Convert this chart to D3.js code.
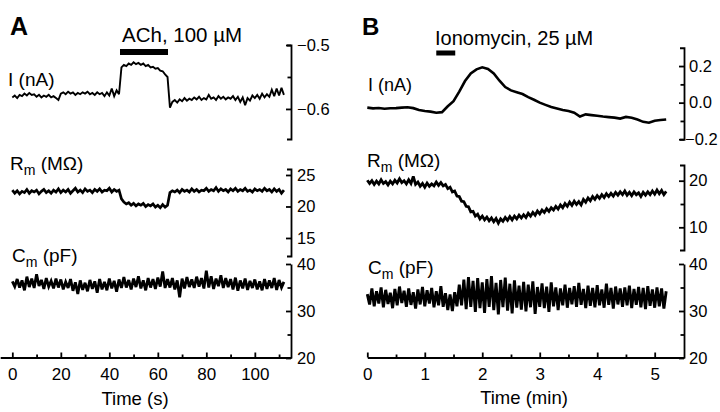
<!DOCTYPE html>
<html><head><meta charset="utf-8">
<script src="https://cdn.jsdelivr.net/npm/d3@7"></script>
<style>
body{margin:0;background:#fff;}
text{font-family:"Liberation Sans",Arial,Helvetica,sans-serif;fill:#000;}
</style></head>
<body>
<script>
// ---------------- DATA ----------------
// Panel A: ACh 100 uM, sampled every 1 s from 0 s
const stepA = 1;
const achApplication = [44.4, 64.2]; // s
const currentA = [-0.582,-0.579,-0.583,-0.578,-0.580,-0.576,-0.579,-0.575,-0.578,-0.577,-0.581,-0.578,-0.582,-0.579,-0.581,-0.578,-0.582,-0.580,-0.583,-0.586,
-0.576,-0.574,-0.577,-0.573,-0.576,-0.574,-0.578,-0.575,-0.577,-0.574,-0.576,-0.573,-0.577,-0.575,-0.578,-0.574,-0.577,-0.575,-0.580,-0.574,
-0.579,-0.568,-0.580,-0.571,-0.577,-0.535,-0.531,-0.533,-0.529,-0.531,-0.527,-0.530,-0.528,-0.531,-0.529,-0.533,-0.531,-0.535,-0.534,-0.537,
-0.536,-0.540,-0.541,-0.546,-0.550,-0.598,-0.589,-0.586,-0.590,-0.585,-0.588,-0.583,-0.587,-0.584,-0.586,-0.582,-0.585,-0.581,-0.586,-0.583,
-0.585,-0.578,-0.584,-0.582,-0.586,-0.580,-0.584,-0.581,-0.585,-0.582,-0.584,-0.580,-0.586,-0.581,-0.589,-0.582,-0.594,-0.583,-0.587,-0.579,
-0.583,-0.578,-0.584,-0.576,-0.582,-0.577,-0.581,-0.570,-0.580,-0.568,-0.579,-0.567,-0.578];
const resistanceA = [22.6,22.1,22.5,22.0,22.4,22.2,22.7,22.1,22.5,22.3,22.6,22.0,22.4,22.7,22.2,22.5,22.1,22.6,22.3,22.8,
22.2,22.6,22.3,22.7,22.1,22.5,22.9,22.3,22.6,22.2,22.8,22.4,22.6,22.2,22.7,22.4,22.8,22.3,22.6,22.5,
22.9,22.3,22.7,22.4,22.6,21.2,20.7,20.4,20.6,20.2,20.5,20.1,20.4,20.2,20.5,20.0,20.3,20.1,20.4,19.9,
20.2,19.8,20.3,19.9,20.2,22.2,22.5,22.3,22.6,22.2,22.7,22.4,22.6,22.3,22.8,22.4,22.7,22.3,22.6,22.5,
22.9,22.4,22.7,22.5,23.0,22.4,22.8,22.5,22.7,22.3,22.8,22.5,22.9,22.4,22.7,22.5,22.9,22.4,22.6,22.3,
22.8,22.5,22.7,22.4,22.9,22.5,22.7,22.3,22.8,22.4,22.7,22.1,22.6];
const capacitanceA = [36.3,35.2,36.8,35.0,36.5,34.4,37.3,35.1,36.9,34.9,37.8,35.3,36.6,34.7,37.0,35.2,36.4,34.8,36.9,35.0,
36.7,34.6,36.2,34.9,36.8,34.3,36.1,33.6,36.5,34.5,36.0,34.2,36.6,34.7,36.3,33.9,36.8,34.6,36.2,34.4,
36.9,34.8,36.4,34.1,36.7,34.9,37.2,35.0,36.6,34.6,36.9,35.1,37.4,34.8,36.5,34.4,37.0,35.0,36.8,34.7,
37.1,35.2,38.4,34.9,36.8,35.0,37.0,34.6,36.5,32.9,36.9,34.8,37.2,35.1,36.7,34.9,37.3,35.2,37.0,34.8,
38.6,35.0,37.4,34.7,36.9,35.3,37.6,34.9,37.0,35.1,36.8,34.6,37.1,34.3,36.5,34.8,36.9,34.5,36.4,34.9,
36.7,34.6,36.3,34.4,36.8,34.7,36.5,34.9,37.0,34.5,36.6,35.0,36.2];

// Panel B: Ionomycin 25 uM
const stepBI = 0.1;   // min
const stepBRC = 0.04; // min
const ionoApplication = [1.2, 1.53]; // min
const currentB = [-0.027,-0.031,-0.029,-0.033,-0.031,-0.030,-0.027,-0.025,-0.030,-0.040,
-0.046,-0.049,-0.055,-0.052,-0.020,0.008,0.060,0.118,0.160,0.182,
0.193,0.184,0.160,0.120,0.085,0.067,0.057,0.047,0.030,0.016,
0.000,-0.012,-0.024,-0.032,-0.040,-0.046,-0.055,-0.076,-0.064,-0.068,
-0.072,-0.076,-0.079,-0.082,-0.087,-0.078,-0.082,-0.092,-0.105,-0.110,
-0.099,-0.095,-0.092];
const resistanceB = [20.1,19.4,20.0,19.2,19.9,19.3,20.2,19.4,19.8,19.1,19.9,19.3,20.1,19.5,20.4,19.6,20.0,19.3,20.2,19.4,
20.9,19.2,19.7,18.8,19.4,18.6,19.5,18.8,19.3,18.9,19.7,19.0,19.6,18.9,19.2,18.3,18.6,17.6,17.8,16.7,
16.6,15.6,15.5,14.5,14.4,13.3,13.4,12.4,12.8,11.8,12.4,11.6,12.2,11.4,12.0,11.2,11.9,10.9,11.8,11.3,
12.1,11.5,12.3,11.6,12.4,11.8,12.6,12.0,12.7,12.1,13.0,12.4,13.2,12.6,13.5,12.9,13.7,13.2,14.0,13.4,
14.2,13.7,14.5,13.9,14.8,14.2,15.1,14.5,15.4,14.7,15.6,14.9,15.5,14.8,16.0,15.4,16.3,15.7,16.6,16.0,
16.8,16.2,17.0,16.4,17.2,16.6,17.3,16.7,17.5,16.9,17.6,17.0,17.8,16.9,17.5,16.8,17.6,17.0,17.4,16.6,
17.5,16.9,17.6,17.0,17.8,17.1,18.0,17.2,17.9,17.0,17.7];
const capacitanceB = [33.6,31.4,34.8,31.0,34.2,31.6,35.0,30.8,34.5,31.5,33.9,30.6,34.7,31.2,35.2,31.7,34.3,30.9,34.8,31.3,
34.0,30.5,34.6,31.4,35.1,31.0,34.4,31.6,34.9,30.8,34.2,31.2,35.3,30.9,33.8,30.2,33.5,30.0,34.0,31.0,
35.6,31.2,36.7,30.4,37.2,30.9,36.4,29.8,37.0,30.6,36.1,29.6,36.8,30.9,37.4,30.2,36.0,29.3,36.6,30.8,
37.1,30.1,35.8,29.5,36.5,30.7,35.4,30.3,36.2,29.9,35.6,30.8,36.3,29.4,35.1,30.9,35.9,30.6,35.2,29.8,
36.1,31.0,35.0,30.2,34.8,31.2,35.6,30.7,34.9,31.4,35.3,30.9,36.0,31.3,34.7,30.6,35.4,31.1,34.9,30.8,
35.5,31.2,34.6,30.7,35.8,31.3,34.9,30.5,35.2,31.4,34.8,30.9,35.0,31.2,35.4,30.6,34.7,31.3,35.1,30.8,
34.9,30.4,35.3,31.1,34.6,30.7,35.0,31.0,34.8,30.5,34.2];

// Tick values
const xTicksA = [0,20,40,60,80,100], xMinorA = [10,30,50,70,90,110];
const xTicksB = [0,1,2,3,4,5], xMinorB = [0.5,1.5,2.5,3.5,4.5];
const iTicksA = [-0.6,-0.5], iMinorA = [-0.55];
const rTicksA = [15,20,25];
const cTicks = [20,30,40], cMinor = [25,35];
const iTicksB = [-0.2,0.0,0.2], iMinorB = [-0.1,0.1];
const rTicksB = [10,20], rMinorB = [15];

// ---------------- DRAW ----------------
const W = 720, H = 412;
const svg = d3.select("body").append("svg").attr("width", W).attr("height", H);

const xA = d3.scaleLinear().domain([-5, 115]).range([0.2, 291.2]);
const xB = d3.scaleLinear().domain([0, 5.51]).range([367.3, 684]);
const yIA = d3.scaleLinear().domain([-0.647, -0.5]).range([139, 45]);
const yRA = d3.scaleLinear().domain([12.14, 25.95]).range([256, 169]);
const yCA = d3.scaleLinear().domain([20, 40]).range([358, 264]);
const yIB = d3.scaleLinear().domain([-0.2, 0.3]).range([139.25, 47.75]);
const yRB = d3.scaleLinear().domain([5.13, 23.37]).range([250, 165]);
const yCB = d3.scaleLinear().domain([20, 40]).range([358, 264]);

const axisXposA = 291, axisXposB = 684, axisY = 357.5;

function styleAxis(g, fs) {
  g.selectAll("path,line").attr("stroke", "#000").attr("stroke-width", 1.8);
  g.selectAll("text").attr("font-size", fs).attr("fill", "#000")
    .attr("font-family", '"Liberation Sans",Arial,sans-serif');
}

function yAxis(scale, xpos, major, minor, fmt, pad, hooks) {
  const g = svg.append("g").attr("transform", `translate(${xpos},0)`);
  g.call(d3.axisRight(scale).tickValues(major).tickSizeInner(-5)
    .tickSizeOuter(hooks ? -4 : 0).tickPadding(pad).tickFormat(fmt));
  styleAxis(g, 16.5);
  if (minor && minor.length) {
    const m = svg.append("g").attr("transform", `translate(${xpos},0)`);
    m.call(d3.axisRight(scale).tickValues(minor).tickSizeInner(-3.5).tickSizeOuter(0).tickFormat(""));
    m.select(".domain").remove();
    styleAxis(m, 16.5);
  }
  return g;
}

function xAxis(scale, major, minor) {
  const g = svg.append("g").attr("transform", `translate(0,${axisY})`);
  g.call(d3.axisBottom(scale).tickValues(major).tickSizeInner(-5).tickSizeOuter(0)
    .tickPadding(10.5).tickFormat(d3.format("d")));
  styleAxis(g, 17);
  const m = svg.append("g").attr("transform", `translate(0,${axisY})`);
  m.call(d3.axisBottom(scale).tickValues(minor).tickSizeInner(-3).tickSizeOuter(0).tickFormat(""));
  m.select(".domain").remove();
  styleAxis(m, 17);
}

// Axes A
yAxis(yIA, axisXposA, iTicksA, iMinorA, d3.format(".1f"), 6, true);
yAxis(yRA, axisXposA, rTicksA, [], d3.format("d"), 6, true);
yAxis(yCA, axisXposA, cTicks, cMinor, d3.format("d"), 6, false);
xAxis(xA, xTicksA, xMinorA);
// Axes B
const gIB = yAxis(yIB, axisXposB, iTicksB, iMinorB, d3.format(".1f"), 5, true);
// the bottom label sits tight against the right edge, as in the figure
gIB.selectAll(".tick text").filter(d => d < 0).attr("x", 1);
yAxis(yRB, axisXposB, rTicksB, rMinorB, d3.format("d"), 5, true);
yAxis(yCB, axisXposB, cTicks, cMinor, d3.format("d"), 5, false);
xAxis(xB, xTicksB, xMinorB);

// Traces
function trace(values, step, xs, ys, sw) {
  const line = d3.line().x((d, i) => xs(i * step)).y(d => ys(d));
  svg.append("path").datum(values).attr("d", line)
    .attr("fill", "none").attr("stroke", "#000").attr("stroke-width", sw)
    .attr("stroke-linejoin", "miter").attr("stroke-miterlimit", 3);
}
trace(currentA, stepA, xA, yIA, 1.9);
trace(resistanceA, stepA, xA, yRA, 2.7);
trace(capacitanceA, stepA, xA, yCA, 2.8);
trace(currentB, stepBI, xB, yIB, 2.6);
trace(resistanceB, stepBRC, xB, yRB, 2.8);
trace(capacitanceB, stepBRC, xB, yCB, 2.9);

// Drug application bars
svg.append("rect").attr("x", xA(achApplication[0])).attr("y", 49)
  .attr("width", xA(achApplication[1]) - xA(achApplication[0])).attr("height", 6).attr("fill", "#000");
svg.append("rect").attr("x", xB(ionoApplication[0])).attr("y", 50.5)
  .attr("width", xB(ionoApplication[1]) - xB(ionoApplication[0])).attr("height", 5).attr("fill", "#000");

// Text
function txt(x, y, s, fs, weight, anchor) {
  return svg.append("text").attr("x", x).attr("y", y).attr("font-size", fs)
    .attr("font-weight", weight || "normal").attr("text-anchor", anchor || "start").text(s);
}
txt(10, 35, "A", 25, "bold");
txt(362, 35, "B", 24, "bold");
txt(122, 41.5, "ACh, 100 \u00B5M", 20.5);
txt(435, 45, "Ionomycin, 25 \u00B5M", 20);

function subLabel(x, y, main, sub, rest, fs) {
  const t = svg.append("text").attr("x", x).attr("y", y).attr("font-size", fs);
  t.append("tspan").text(main);
  if (sub) t.append("tspan").attr("font-size", fs * 0.74).attr("dy", 5).text(sub);
  t.append("tspan").attr("dy", sub ? -5 : 0).text(rest);
}
subLabel(8, 86, "I", "", " (nA)", 19);
subLabel(10, 170, "R", "m", " (M\u03A9)", 19);
subLabel(12, 262, "C", "m", " (pF)", 19);
subLabel(368, 91, "I", "", " (nA)", 18);
subLabel(367, 167, "R", "m", " (M\u03A9)", 19);
subLabel(368, 273.5, "C", "m", " (pF)", 19);

txt(135, 405, "Time (s)", 18.5, "normal", "middle");
txt(524, 404, "Time (min)", 18.5, "normal", "middle");
</script>
</body></html>
